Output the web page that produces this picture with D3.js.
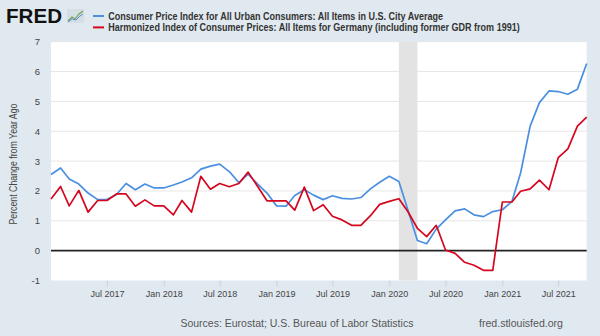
<!DOCTYPE html>
<html>
<head>
    <meta charset="UTF-8" />
    <title>FRED CPI vs HICP</title>
    <script src="https://cdn.jsdelivr.net/npm/d3@7"></script>
    <style>
    body { margin: 0; background: #e1e9f0; }
    text { font-family: "Liberation Sans", Arial, sans-serif; }
    </style>
</head>
<body>
<div id="main"></div>
<script type="text/javascript">

// monthly observations, Jan 2017 .. Oct 2021
const firstMonth = "2017-01"
const usCpi = [2.55, 2.77, 2.4, 2.23, 1.93, 1.71, 1.71, 1.88, 2.25, 2.04, 2.23, 2.1,
  2.1, 2.2, 2.3, 2.44, 2.73, 2.83, 2.9, 2.65, 2.28, 2.56, 2.23, 1.93,
  1.5, 1.49, 1.85, 2.04, 1.86, 1.71, 1.84, 1.75, 1.73, 1.78, 2.07, 2.29,
  2.49, 2.32, 1.37, 0.34, 0.23, 0.72, 1.03, 1.33, 1.4, 1.2, 1.14, 1.31,
  1.37, 1.65, 2.6, 4.17, 4.96, 5.35, 5.33, 5.24, 5.41, 6.27]
const deHicp = [1.73, 2.15, 1.5, 2.02, 1.29, 1.68, 1.68, 1.9, 1.9, 1.49, 1.7, 1.5,
  1.5, 1.2, 1.68, 1.29, 2.49, 2.06, 2.25, 2.14, 2.25, 2.63, 2.15, 1.67,
  1.67, 1.67, 1.36, 2.13, 1.34, 1.54, 1.15, 1.03, 0.85, 0.85, 1.17, 1.55,
  1.65, 1.74, 1.31, 0.75, 0.47, 0.85, 0.02, -0.09, -0.39, -0.49, -0.66, -0.66,
  1.63, 1.63, 1.99, 2.07, 2.36, 2.04, 3.12, 3.41, 4.17, 4.47]
const seriesNames = [
  "Consumer Price Index for All Urban Consumers: All Items in U.S. City Average",
  "Harmonized Index of Consumer Prices: All Items for Germany (including former GDR from 1991)"]
const xTickLabels = ["Jul 2017", "Jan 2018", "Jul 2018", "Jan 2019", "Jul 2019",
  "Jan 2020", "Jul 2020", "Jan 2021", "Jul 2021"]
const yTicks = [-1, 0, 1, 2, 3, 4, 5, 6, 7]
const recession = ["2020-02", "2020-04"]

const width = 600
const height = 336
const plot = { left: 51, right: 586.7, top: 41.7, bottom: 280.5 }
const colours = ["#4b8fe0", "#d5071f"]

const parseMonth = d3.timeParse("%Y-%m")
const parseTick = d3.timeParse("%b %Y")
const start = parseMonth(firstMonth)
const months = d3.range(usCpi.length).map(i => d3.timeMonth.offset(start, i))

const x = d3.scaleTime()
  .domain([months[0], months[months.length - 1]])
  .range([plot.left, plot.right])

const y = d3.scaleLinear()
  .domain([-1, 7])
  .range([plot.bottom, plot.top])

const svg = d3.select("#main").append("svg")
  .attr("width", width)
  .attr("height", height)

svg.append("rect")
  .attr("width", width).attr("height", height)
  .attr("fill", "#e1e9f0")

svg.append("rect")
  .attr("x", plot.left).attr("y", plot.top)
  .attr("width", plot.right - plot.left)
  .attr("height", plot.bottom - plot.top)
  .attr("fill", "#ffffff")

// gridlines
svg.append("g")
  .selectAll("line").data(yTicks.filter(d => d > 0))
  .enter().append("line")
  .attr("x1", plot.left).attr("x2", plot.right)
  .attr("y1", d => y(d)).attr("y2", d => y(d))
  .attr("stroke", "#e6e6e6")
  .attr("stroke-width", 1)

// recession band
svg.append("rect")
  .attr("x", x(parseMonth(recession[0])))
  .attr("y", plot.top)
  .attr("width", x(parseMonth(recession[1])) - x(parseMonth(recession[0])))
  .attr("height", plot.bottom - plot.top)
  .attr("fill", "#e3e3e3")

// zero line
svg.append("line")
  .attr("x1", plot.left).attr("x2", plot.right)
  .attr("y1", y(0)).attr("y2", y(0))
  .attr("stroke", "#222")
  .attr("stroke-width", 1.8)

// y tick labels
svg.append("g")
  .selectAll("text").data(yTicks)
  .enter().append("text")
  .attr("x", 40)
  .attr("y", d => y(d) + 3.5)
  .attr("text-anchor", "end")
  .attr("font-size", 9.5)
  .attr("fill", "#444")
  .text(d => d)

svg.append("text")
  .attr("transform", `translate(17, ${(plot.top + plot.bottom) / 2 + 3}) rotate(-90)`)
  .attr("text-anchor", "middle")
  .attr("font-size", 10)
  .attr("fill", "#444")
  .attr("textLength", 121)
  .attr("lengthAdjust", "spacingAndGlyphs")
  .text("Percent Change from Year Ago")

// x axis
const xAxis = d3.axisBottom(x)
  .tickValues(xTickLabels.map(parseTick))
  .tickFormat(d3.timeFormat("%b %Y"))
  .tickSize(6)
  .tickPadding(4)

const gx = svg.append("g")
  .attr("transform", `translate(0, ${plot.bottom})`)
  .call(xAxis)
gx.select(".domain").remove()
gx.selectAll(".tick line").attr("stroke", "#c9d3dd")
gx.selectAll(".tick text")
  .attr("font-size", 9)
  .attr("font-family", "'Liberation Sans', Arial, sans-serif")
  .attr("fill", "#444")

// series lines
const line = d3.line()
  .x((d, i) => x(months[i]))
  .y(d => y(d))

const series = [usCpi, deHicp]
svg.append("g")
  .selectAll("path").data(series)
  .enter().append("path")
  .attr("d", d => line(d))
  .attr("fill", "none")
  .attr("stroke", (d, i) => colours[i])
  .attr("stroke-width", 1.7)
  .attr("stroke-linejoin", "round")

// header: logo + legend
svg.append("text")
  .attr("x", 6).attr("y", 22.5)
  .attr("font-size", 21)
  .attr("font-weight", "bold")
  .attr("fill", "#111")
  .attr("textLength", 56)
  .attr("lengthAdjust", "spacingAndGlyphs")
  .text("FRED")

const icon = svg.append("g").attr("transform", "translate(67, 9)")
icon.append("rect").attr("width", 17).attr("height", 14).attr("fill", "#d5dde5")
icon.append("path")
  .attr("d", "M1,12 L5,8 L8,10 L12,5 L16,2")
  .attr("fill", "none").attr("stroke", "#6aa84f").attr("stroke-width", 1.2)
icon.append("path")
  .attr("d", "M1,13 L5,10 L9,11 L13,7 L16,5")
  .attr("fill", "none").attr("stroke", "#5b8fd0").attr("stroke-width", 1)

const legendWidths = [334.7, 411.4]
const legend = svg.append("g")
  .selectAll("g").data(seriesNames)
  .enter().append("g")
  .attr("transform", (d, i) => `translate(0, ${16 + i * 11.4})`)

legend.append("line")
  .attr("x1", 93).attr("x2", 104)
  .attr("stroke", (d, i) => colours[i])
  .attr("stroke-width", 2)

legend.append("text")
  .attr("x", 108.3).attr("y", 3.5)
  .attr("font-size", 10)
  .attr("font-weight", "bold")
  .attr("fill", "#333")
  .attr("textLength", (d, i) => legendWidths[i])
  .attr("lengthAdjust", "spacingAndGlyphs")
  .text(d => d)

// footer
svg.append("text")
  .attr("x", 180.4).attr("y", 326.5)
  .attr("font-size", 11.5)
  .attr("fill", "#555")
  .attr("textLength", 233)
  .attr("lengthAdjust", "spacingAndGlyphs")
  .text("Sources: Eurostat; U.S. Bureau of Labor Statistics")

svg.append("text")
  .attr("x", 479).attr("y", 326.5)
  .attr("font-size", 11.5)
  .attr("fill", "#555")
  .attr("textLength", 84)
  .attr("lengthAdjust", "spacingAndGlyphs")
  .text("fred.stlouisfed.org")

</script>
</body>
</html>
